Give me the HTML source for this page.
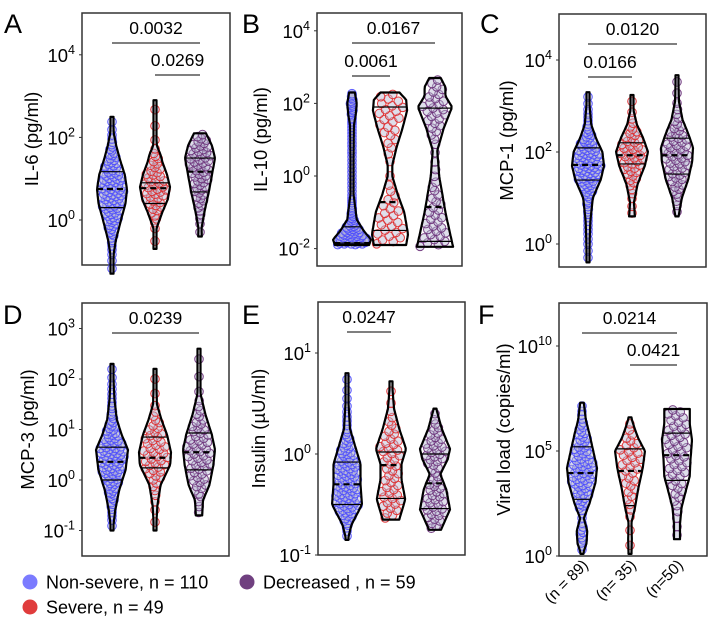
<!DOCTYPE html>
<html><head><meta charset="utf-8"><style>
html,body{margin:0;padding:0;background:#fff;width:708px;height:618px;overflow:hidden}
svg{display:block;font-family:"Liberation Sans",Arial,sans-serif}
</style></head><body>
<svg id="fig" width="708" height="618" viewBox="0 0 708 618" xmlns="http://www.w3.org/2000/svg"></svg>
<script>
// ---------- data ----------
const groups = ["Non-severe","Severe","Decreased"];
const groupColors = ["#4a4aff","#e02828","#6a2f78"];
const panelLetters = ["A","B","C","D","E","F"];
const panelTitles = ["IL-6 (pg/ml)","IL-10 (pg/ml)","MCP-1 (pg/ml)","MCP-3 (pg/ml)","Insulin (µU/ml)","Viral load (copies/ml)"];
const tickExps = [[0,2,4],[-2,0,2,4],[0,2,4],[-1,0,1,2,3],[-1,0,1],[0,5,10]];
const counts = [[110,49,59],[110,49,59],[110,49,59],[110,49,59],[110,49,59],[89,35,50]];
const fLabels = ["(n = 89)","(n= 35)","(n=50)"];
// quartiles (log10): [q1, median, q3]
const quartiles = [
 [[0.3,0.75,1.17],[0.4,0.77,0.9],[0.68,1.17,1.5]],
 [[-1.85,-1.85,-1.4],[-1.5,-0.72,1.9],[-1.8,-0.85,1.87]],
 [[1.39,1.72,2.09],[1.74,1.93,2.2],[1.52,1.93,2.3]],
 [[0,0.36,0.65],[0.24,0.44,0.85],[0.2,0.55,0.93]],
 [[-0.5,-0.3,-0.08],[-0.44,-0.11,0.02],[-0.54,-0.29,0]],
 [[2.7,3.95,5.2],[2.4,4.05,5.1],[3.6,4.8,5.85]]
];
// density profiles: [log10 value, relative density]
const profiles = [
 [[[-1.3,0.05],[-0.8,0.12],[-0.5,0.25],[0,0.6],[0.4,0.9],[0.75,1],[1.1,0.85],[1.5,0.5],[1.8,0.28],[2.1,0.12],[2.5,0.05]],
  [[-0.7,0.06],[-0.2,0.1],[0.2,0.5],[0.5,0.85],[0.8,1],[1.1,0.8],[1.4,0.5],[1.6,0.35],[1.8,0.12],[2.2,0.07],[2.9,0.06]],
  [[-0.4,0.12],[-0.2,0.1],[0.2,0.3],[0.7,0.6],[1.1,0.8],[1.5,1],[1.8,0.8],[2.1,0.4]]],
 [[[-1.9,0.9],[-1.75,1],[-1.5,0.6],[-1.2,0.25],[-0.5,0.08],[0.5,0.08],[1.4,0.1],[1.7,0.2],[2.0,0.25],[2.3,0.15]],
  [[-1.9,0.85],[-1.6,0.95],[-1,0.75],[-0.5,0.4],[0,0.12],[0.3,0.12],[0.8,0.35],[1.3,0.65],[1.8,0.9],[2.1,0.85],[2.3,0.5]],
  [[-1.95,0.95],[-1.6,0.8],[-1,0.55],[0,0.22],[0.7,0.12],[1.3,0.45],[1.9,0.9],[2.2,0.55],[2.45,0.55],[2.7,0.3]]],
 [[[-0.4,0.06],[0,0.1],[0.5,0.15],[1,0.3],[1.4,0.8],[1.7,1],[2.0,0.9],[2.3,0.5],[2.6,0.2],[3.0,0.1],[3.3,0.06]],
  [[0.6,0.18],[0.9,0.12],[1.3,0.35],[1.7,0.8],[2.0,1],[2.3,0.7],[2.6,0.3],[2.9,0.1],[3.24,0.08]],
  [[0.6,0.1],[1.0,0.3],[1.4,0.7],[1.8,0.95],[2.1,1],[2.4,0.7],[2.7,0.35],[3.1,0.12],[3.67,0.08]]],
 [[[-1.0,0.05],[-0.6,0.2],[-0.2,0.45],[0.2,0.85],[0.6,1],[0.9,0.6],[1.2,0.3],[1.6,0.15],[2.3,0.05]],
  [[-1.0,0.06],[-0.5,0.15],[-0.1,0.35],[0.3,0.95],[0.55,1],[0.9,0.75],[1.2,0.4],[1.5,0.12],[2.2,0.06]],
  [[-0.7,0.2],[-0.4,0.25],[-0.1,0.65],[0.3,0.9],[0.6,1],[0.9,0.8],[1.3,0.4],[1.7,0.1],[2.2,0.07],[2.6,0.06]]],
 [[[-0.85,0.05],[-0.7,0.3],[-0.5,1],[-0.3,0.9],[-0.1,0.9],[0,0.7],[0.25,0.2],[0.5,0.1],[0.8,0.05]],
  [[-0.65,0.55],[-0.45,0.95],[-0.25,0.7],[-0.1,0.7],[0.05,1],[0.25,0.55],[0.45,0.2],[0.72,0.06]],
  [[-0.75,0.4],[-0.55,1],[-0.35,0.75],[-0.2,0.35],[-0.05,0.85],[0.05,1],[0.25,0.45],[0.45,0.08]]],
 [[[0.1,0.06],[0.6,0.3],[1.2,0.35],[1.8,0.12],[2.5,0.5],[3.5,0.9],[4.2,1],[5,0.75],[5.8,0.5],[6.5,0.25],[7.3,0.12]],
  [[0.1,0.1],[0.8,0.12],[1.6,0.1],[2.2,0.3],[3.2,0.55],[4.2,0.85],[5,1],[5.6,0.55],[6.2,0.25],[6.6,0.08]],
  [[0.8,0.2],[1.5,0.2],[2.3,0.3],[3,0.55],[3.8,0.85],[4.6,0.9],[5.5,1],[6.3,0.85],[7.0,0.85]]]
];
// significance brackets: [fromGroup, toGroup, label]
const sigs = [
 [[0,2,"0.0032"],[1,2,"0.0269"]],
 [[0,2,"0.0167"],[0,1,"0.0061"]],
 [[0,2,"0.0120"],[0,1,"0.0166"]],
 [[0,2,"0.0239"]],
 [[0,1,"0.0247"]],
 [[0,2,"0.0214"],[1,2,"0.0421"]]
];
// ---------- layout ----------
const layout = [
 {x0:82,x1:230,y0:13,y1:265,ref:0,refY:220,dec:41.3,cx:[112,155,200],half:15,tx:33,lx:4,ly:33},
 {x0:317,x1:462,y0:13,y1:266,ref:0,refY:176,dec:36.3,cx:[352,390,435],half:19,tx:262,lx:242,ly:33},
 {x0:559,x1:706,y0:14,y1:267,ref:0,refY:244,dec:46,cx:[588,632,677],half:16,tx:508,lx:480,ly:33},
 {x0:82,x1:229,y0:303,y1:556,ref:0,refY:480,dec:50.5,cx:[112,155,199],half:16,tx:29,lx:3,ly:324},
 {x0:318,x1:465,y0:302,y1:555,ref:0,refY:454,dec:101,cx:[347,391,435],half:15,tx:260,lx:242,ly:324},
 {x0:559,x1:707,y0:303,y1:556,ref:0,refY:556,dec:21,cx:[582,630,677],half:15,tx:505,lx:478,ly:324}
];
const sigY = [[43,75],[43,76],[44,77],[333],[332],[333,365]];
const NS="http://www.w3.org/2000/svg";
const svg=document.getElementById('fig');
function mk(tag,attrs,parent){const e=document.createElementNS(NS,tag);for(const k in attrs)e.setAttribute(k,attrs[k]);(parent||svg).appendChild(e);return e;}
function interp(prof,v){if(v<=prof[0][0])return prof[0][1];for(let i=1;i<prof.length;i++){if(v<=prof[i][0]){const a=prof[i-1],b=prof[i];return a[1]+(b[1]-a[1])*(v-a[0])/(b[0]-a[0]);}}return prof[prof.length-1][1];}

layout.forEach((L,p)=>{
  const g=mk('g',{});
  
  
  const y=v=>L.refY-(v-L.ref)*L.dec;
  const box=mk('rect',{x:L.x0,y:L.y0,width:L.x1-L.x0,height:L.y1-L.y0,fill:'none',stroke:'#333','stroke-width':1.5},g);
  
  
  const let_=mk('text',{x:L.lx,y:L.ly,'font-size':27,fill:'#000'},g);let_.textContent=panelLetters[p];
  
  
  const mid=(L.y0+L.y1)/2;
  const tt=mk('text',{x:L.tx,y:mid,'font-size':18.5,'text-anchor':'middle',transform:`rotate(-90 ${L.tx} ${mid})`,'dominant-baseline':'middle'},g);tt.textContent=panelTitles[p];
  
  
  tickExps[p].forEach(e=>{
    const t=mk('text',{x:L.x0-7,y:y(e)+7,'font-size':18.5,'text-anchor':'end'},g);
    
    
    const s1=document.createElementNS(NS,'tspan');s1.textContent='10';t.appendChild(s1);
    const s2=document.createElementNS(NS,'tspan');s2.setAttribute('dy','-8');s2.setAttribute('font-size','12.5');s2.textContent=String(e);t.appendChild(s2);
    mk('line',{x1:L.x0-3,x2:L.x0,y1:y(e),y2:y(e),stroke:'#333'},g);
  });
  groups.forEach((gn,k)=>{
    const prof=profiles[p][k],cx=L.cx[k],col=groupColors[k];
    const vg=mk('g',{},g);
    
    
    const lo=prof[0][0],hi=prof[prof.length-1][0];
    const N=200,cdf=[0];for(let i=1;i<=N;i++){const v=lo+(hi-lo)*i/N;cdf.push(cdf[i-1]+interp(prof,v));}
    const tot=cdf[N],n=counts[p][k];
    for(let i=0;i<n;i++){
      const u=(i+0.5)/n*tot;let j=1;while(j<N&&cdf[j]<u)j++;
      const v=lo+(hi-lo)*(j-0.5)/N;
      const w=interp(prof,v)*L.half;
      const jx=(((i*0.618034)%1)*2-1)*Math.max(w-3,0);
      const c=mk('circle',{cx:cx+jx,cy:y(v),r:4.3,fill:'rgba(185,185,210,0.45)',stroke:col,'stroke-width':1,'stroke-opacity':0.9},vg);
      
      
    }
    let right=[],left=[];
    for(let i=0;i<=60;i++){const v=lo+(hi-lo)*i/60;const w=Math.max(interp(prof,v)*L.half,1.5);right.push([cx+w,y(v)]);left.push([cx-w,y(v)]);}
    const pts=right.concat(left.reverse());
    const path=mk('path',{d:'M'+pts.map(q=>q[0].toFixed(1)+','+q[1].toFixed(1)).join('L')+'Z',fill:'none',stroke:'#000','stroke-width':2.2,'stroke-linejoin':'round'},vg);
    
    
    quartiles[p][k].forEach((q,qi)=>{
      const w=Math.max(interp(prof,q)*L.half,2);
      const ln=mk('line',{x1:cx-w,x2:cx+w,y1:y(q),y2:y(q),stroke:'#000','stroke-width':qi==1?2.2:1.2},vg);
      if(qi==1)ln.setAttribute('stroke-dasharray','6,4');
      
      
    });
  });
  sigs[p].forEach((s,i)=>{
    const yy=sigY[p][i];const a=L.cx[s[0]],b=L.cx[s[1]];
    const l=mk('line',{x1:a,x2:b,y1:yy,y2:yy,stroke:'#555','stroke-width':1.5},g);
    
    
    const t=mk('text',{x:(a+b)/2,y:yy-9,'font-size':17.5,'text-anchor':'middle'},g);t.textContent=s[2];
    
    
  });
  if(p==5){fLabels.forEach((s,k)=>{const x=L.cx[k]+7,yy=L.y1+10;
    const t=mk('text',{x:x,y:yy,'font-size':15.5,'text-anchor':'end',transform:`rotate(-45 ${x} ${yy})`},g);t.textContent=s;
    
    });}
});
const legend=[[30,582,0,"Non-severe, n = 110"],[247,582,2,"Decreased , n = 59"],[30,607,1,"Severe, n = 49"]];
legend.forEach(l=>{
  const g=mk('g',{});
  
  
  mk('circle',{cx:l[0],cy:l[1],r:7.5,fill:['#7b7bff','#e03c3c','#704080'][l[2]]},g);
  const t=mk('text',{x:l[0]+16,y:l[1]+6.5,'font-size':18},g);t.textContent=l[3];
});
</script>
</body></html>
